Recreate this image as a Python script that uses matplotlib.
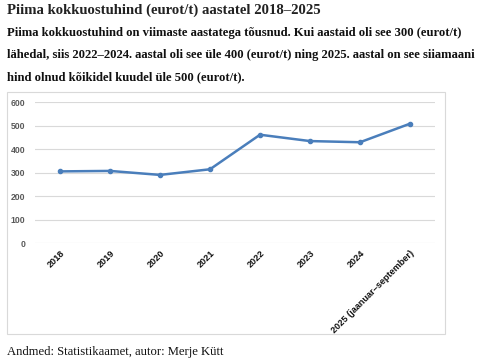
import matplotlib.pyplot as plt
from matplotlib.patches import Rectangle

# andmed
aastad = ["2018", "2019", "2020", "2021", "2022", "2023", "2024",
          "2025 (jaanuar\u2013september)"]
hind = [306, 308, 291, 315, 462, 435, 430, 509]
y_ticks = [0, 100, 200, 300, 400, 500, 600]

pealkiri = "Piima kokkuostuhind (eurot/t) aastatel 2018\u20132025"
alapealkiri = [
    "Piima kokkuostuhind on viimaste aastatega t\u00f5usnud. Kui aastaid oli see 300 (eurot/t)",
    "l\u00e4hedal, siis 2022\u20132024. aastal oli see \u00fcle 400 (eurot/t) ning 2025. aastal on see siiamaani",
    "hind olnud k\u00f5ikidel kuudel \u00fcle 500 (eurot/t).",
]
allikas = "Andmed: Statistikaamet, autor: Merje K\u00fctt"

W, H = 480, 362
fig = plt.figure(figsize=(4.8, 3.62), dpi=100)

serif = ["Liberation Serif", "DejaVu Serif"]

fig.text(7 / W, 1 - 10 / H, pealkiri, fontsize=10.6, fontweight="bold",
         family=serif, va="center", ha="left", color="#222222")
for i, rida in enumerate(alapealkiri):
    fig.text(7 / W, 1 - (33 + 22 * i) / H, rida, fontsize=9.1, fontweight="bold",
             family=serif, va="center", ha="left", color="#111111")
fig.text(7 / W, 1 - 352 / H, allikas, fontsize=9.1, family=serif,
         va="center", ha="left", color="#111111")

# kasti raam
fig.patches.append(Rectangle((7 / W, 1 - 334 / H), 438 / W, 242 / H,
                             transform=fig.transFigure, fill=False,
                             edgecolor="#d9d9d9", linewidth=0.8))

ax = fig.add_axes([35 / W, 1 - 243.3 / H, 400 / W, 141 / H])
x = list(range(len(aastad)))
ax.plot(x, hind, color="#4a7ebb", linewidth=1.8, marker="o", markersize=3)

ax.set_xlim(-0.5, len(aastad) - 0.5)
ax.set_ylim(0, 600)
ax.set_yticks(y_ticks)
ax.set_yticklabels([str(v) for v in y_ticks], fontsize=6.2, fontweight="bold",
                   color="#595959", family="Liberation Sans")
ax.set_xticks(x)
ax.set_xticklabels(aastad, rotation=45, ha="right", rotation_mode="anchor",
                   fontsize=6.6, fontweight="bold", color="#111111",
                   family="Liberation Sans")
ax.tick_params(axis="y", length=0, pad=7)
ax.tick_params(axis="x", length=0, pad=4)
ax.grid(axis="y", color="#d9d9d9", linewidth=0.8)
ax.set_axisbelow(True)
for s in ax.spines.values():
    s.set_visible(False)

fig.savefig("out.png", dpi=100)
